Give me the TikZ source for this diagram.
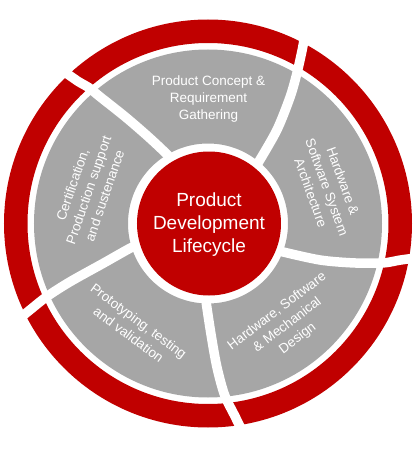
\documentclass[tikz,border=0pt]{standalone}
\usepackage{fontspec}
\setmainfont{Liberation Sans}
\definecolor{pdred}{HTML}{C00000}
\definecolor{pdgray}{HTML}{A6A6A6}
\begin{document}
\begin{tikzpicture}[x=1pt,y=1pt,
  cut/.style={draw=white, line width=9.5pt, line cap=butt},
  ringtext/.style={text=white, align=center, inner sep=0pt, font=\fontsize{13.5}{17}\selectfont},
  centertext/.style={text=white, align=center, inner sep=0pt, font=\fontsize{19}{23.3}\selectfont}]
\useasboundingbox (-208,-229.5) rectangle (207,223.5);
% outer red ring and grey ring
\fill[pdred, even odd rule] (0,0) circle[radius=204pt] (0,0) circle[radius=180.5pt];
\fill[pdgray, even odd rule] (0,0) circle[radius=174pt] (0,0) circle[radius=80pt];
% swirl cuts
\draw[cut] plot[smooth] coordinates {(50.0:72) (50.4:78.5) (53.6:116) (57:150.7) (59.4:174.8) (61.5:197.3) (62.8:212)};
\draw[cut] plot[smooth] coordinates {(-21.2:72) (-20.8:80) (-18.05:117.8) (-15.2:150.3) (-12.7:179.4) (-10.8:195.4) (-9.3:212)};
\draw[cut] plot[smooth] coordinates {(-91.8:72) (-91.2:80) (-88.5:110) (-86.5:143) (-84.5:172) (-82:195) (-80.5:212)};
\draw[cut] plot[smooth] coordinates {(197.1:72) (197.6:81.8) (200.8:112) (202.9:149.8) (204.4:177.1) (205.9:197.9) (206.8:212)};
\draw[cut] plot[smooth] coordinates {(120:72) (120.6:80) (124.5:105) (127.8:135) (130.4:166) (131.3:181.3) (132.4:192.2) (133.6:212)};
% centre disc
\fill[pdred] (1,0) circle[radius=72pt];
\node[centertext] (center) at (1,-1) {Product\\Development\\Lifecycle};
% ring labels
\node[ringtext] (concept) at (0.5,124) {Product Concept \&\\Requirement\\Gathering};
\node[ringtext, rotate=-70] (arch) at (119,36.5) {Hardware \&\\Software System\\Architecture};
\node[ringtext, rotate=37] (design) at (79.5,-101.5) {Hardware, Software\\\& Mechanical\\Design};
\node[ringtext, rotate=-36.6] (proto) at (-74.3,-104.3) {Prototyping, testing\\and validation};
\node[ringtext, rotate=71] (cert) at (-119.5,33.5) {Certification,\\Production support\\and sustenance};
\end{tikzpicture}
\end{document}
